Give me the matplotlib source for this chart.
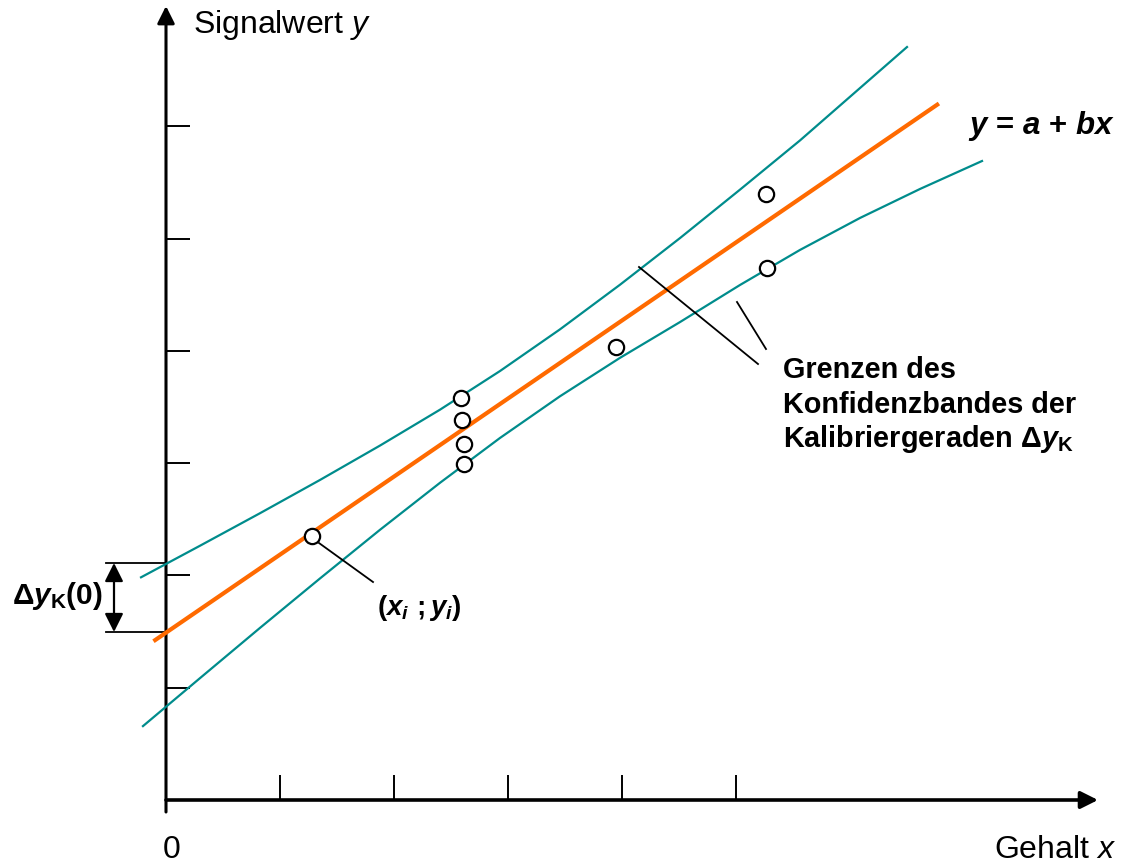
import matplotlib
matplotlib.use('Agg')
import matplotlib.pyplot as plt

plt.rcParams['font.family'] = ['Liberation Sans', 'DejaVu Sans']
plt.rcParams['mathtext.fontset'] = 'custom'
plt.rcParams['mathtext.rm'] = 'Liberation Sans:bold'
plt.rcParams['mathtext.it'] = 'Liberation Sans:italic:bold'
plt.rcParams['mathtext.bf'] = 'Liberation Sans:bold'
plt.rcParams['mathtext.sf'] = 'Liberation Sans:italic'

# ---------------- data (in tick units) ----------------
x_ticks = [1, 2, 3, 4, 5]
y_ticks = [1, 2, 3, 4, 5, 6]

x_points = [1.28, 2.59, 2.60, 2.61, 2.61, 3.95, 5.26, 5.27]
y_points = [2.35, 3.58, 3.38, 3.17, 2.99, 4.03, 5.40, 4.74]

intercept_a = 1.49
slope_b = 0.695
fit_x_range = [-0.11, 6.78]

upper_x = [-0.219, 0.298, 0.825, 1.351, 1.877, 2.404, 2.930, 3.456,
           3.982, 4.509, 5.035, 5.561, 6.088, 6.500]
upper_y = [1.983, 2.264, 2.554, 2.850, 3.156, 3.476, 3.820, 4.191,
           4.588, 5.004, 5.435, 5.873, 6.340, 6.705]

lower_x = [-0.202, 0.298, 0.825, 1.351, 1.877, 2.404, 2.930, 3.456,
           3.982, 4.509, 5.035, 5.561, 6.088, 6.614, 7.158]
lower_y = [0.658, 1.085, 1.533, 1.973, 2.406, 2.825, 3.224, 3.595,
           3.937, 4.256, 4.586, 4.898, 5.183, 5.441, 5.690]

# ---------------- layout helpers (pixel -> data) ----------------
PX0, PY0, SX, SY = 166.0, 800.0, 114.0, 112.3
def X(px):
    return (px - PX0) / SX
def Y(py):
    return (PY0 - py) / SY

W, H = 1123, 863
fig = plt.figure(figsize=(W / 100, H / 100), dpi=100)
ax = fig.add_axes([0, 0, 1, 1])
ax.set_xlim(X(0), X(W))
ax.set_ylim(Y(H), Y(0))
ax.axis('off')

teal = '#008C8C'
orange = '#FF6A00'

# axes arrows
ax.annotate('', xy=(X(166), Y(6)), xytext=(X(166), Y(812)),
            arrowprops=dict(arrowstyle='-|>', lw=2.2, color='black',
                            mutation_scale=26, shrinkA=0, shrinkB=0))
ax.annotate('', xy=(X(1098), Y(800)), xytext=(X(166), Y(800)),
            arrowprops=dict(arrowstyle='-|>', lw=2.6, color='black',
                            mutation_scale=26, shrinkA=0, shrinkB=0))

# ticks
for t in x_ticks:
    ax.plot([t, t], [0, 25 / SY], color='black', lw=1.4, solid_capstyle='butt')
for t in y_ticks:
    ax.plot([0, 24 / SX], [t, t], color='black', lw=1.4, solid_capstyle='butt')

# confidence band
ax.plot(upper_x, upper_y, color=teal, lw=1.6, zorder=3, solid_joinstyle='round')
ax.plot(lower_x, lower_y, color=teal, lw=1.6, zorder=3, solid_joinstyle='round')

# regression line
fit_y = [intercept_a + slope_b * v for v in fit_x_range]
ax.plot(fit_x_range, fit_y, color=orange, lw=3.0, zorder=4, solid_capstyle='butt')

# data points
ax.plot(x_points, y_points, 'o', ms=11, mfc='white', mec='black', mew=1.6, zorder=6)

# annotation lines
ax.plot([X(319), X(373)], [Y(543), Y(582)], color='black', lw=1.3, zorder=5)
ax.plot([X(639), X(758)], [Y(267), Y(364)], color='black', lw=1.3, zorder=5)
ax.plot([X(737), X(766)], [Y(302), Y(349)], color='black', lw=1.3, zorder=5)

# delta y_K(0) bracket
ax.plot([X(106), X(166)], [Y(563), Y(563)], color='black', lw=1.3)
ax.plot([X(106), X(166)], [Y(632), Y(632)], color='black', lw=1.3)
ax.annotate('', xy=(X(114), Y(563)), xytext=(X(114), Y(632)),
            arrowprops=dict(arrowstyle='<|-|>', lw=1.6, color='black',
                            mutation_scale=28, shrinkA=0, shrinkB=0))

# texts
ax.text(X(193), Y(25), r'Signalwert $\mathsf{y}$', fontsize=23, ha='left', va='center')
ax.text(X(1116), Y(850), r'Gehalt $\mathsf{x}$', fontsize=23, ha='right', va='center')
ax.text(X(172), Y(850), '0', fontsize=23, ha='center', va='center')

ax.text(X(1115), Y(134), r'$y$ = $a$ + $bx$', fontsize=22.5, fontweight='bold',
        ha='right', va='baseline')
ax.text(X(783), Y(378), 'Grenzen des', fontsize=20.8, fontweight='bold',
        ha='left', va='baseline')
ax.text(X(783), Y(413), 'Konfidenzbandes der', fontsize=20.8, fontweight='bold',
        ha='left', va='baseline')
ax.text(X(783), Y(447), r'Kalibriergeraden $\Delta y_\mathrm{K}$', fontsize=20.8,
        fontweight='bold', ha='left', va='baseline')
ax.text(X(377), Y(615), r'$(x_i\ ;y_i)$', fontsize=20, ha='left', va='baseline')
ax.text(X(12), Y(604), r'$\Delta y_\mathrm{K}(0)$', fontsize=21.5, ha='left', va='baseline')

fig.savefig('out.png', dpi=100)
